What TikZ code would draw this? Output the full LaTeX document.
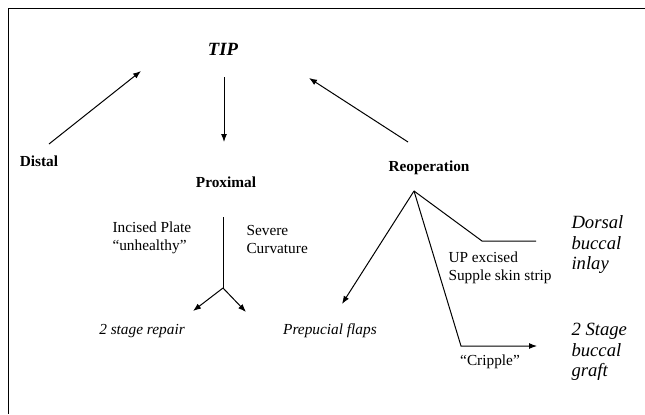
\documentclass[tikz,border=0pt]{standalone}
\usepackage{fontspec}
\setmainfont{Liberation Serif}
\usetikzlibrary{arrows.meta}

\begin{document}
\begin{tikzpicture}[
x=0.75pt, y=-0.75pt,
line width=0.75pt, >={Latex[length=6pt,width=4.5pt]},
   txt/.style = {inner sep=0pt, align=left,% plain labels
                 font=\fontsize{11.5}{13.5}\selectfont},
   hd/.style = {inner sep=0pt,% bold headings
                font=\fontsize{11.5}{13.5}\selectfont\bfseries},
   res/.style = {inner sep=0pt,% italic results
                 font=\fontsize{11.5}{13.5}\selectfont\itshape},
   big/.style = {inner sep=0pt, align=left,% large italic results
                 font=\fontsize{14}{15.4}\selectfont\itshape},
                    ]
\useasboundingbox (0,0) rectangle (645,414);
\draw (645,8) -- (8,8) -- (8,414);% frame
% headings
\node[big,font=\fontsize{14}{15.4}\selectfont\bfseries\itshape] (tip) at (223,49) {TIP};
\node[hd] (distal) at (39,161) {Distal};
\node[hd] (proximal) at (226,182) {Proximal};
\node[hd] (reop) at (429,168) {Reoperation};
% labels
\node[txt,anchor=west] (plate) at (112,238) {Incised Plate\\“unhealthy”};
\node[txt,anchor=west] (curv) at (246,239) {Severe\\Curvature};
\node[txt,anchor=west] (strip) at (448,268) {UP excised\\Supple skin strip};
\node[txt] (cripple) at (490,362) {“Cripple”};
\node[res] (repair) at (142,331) {2 stage repair};
\node[res] (flaps) at (330,331) {Prepucial flaps};
\node[big,anchor=west] (inlay) at (571,245) {Dorsal\\buccal\\inlay};
\node[big,anchor=west] (graft) at (571,352) {2 Stage\\buccal\\graft};
% connector ends
\coordinate (distal-out) at (49,144);
\coordinate (tip-l) at (141,71);
\coordinate (tip-out) at (224,77);
\coordinate (prox-in) at (224,142);
\coordinate (reop-out) at (408,142);
\coordinate (tip-r) at (309,78);
\coordinate (prox-top) at (223,217);
\coordinate (prox-fork) at (223,288);
\coordinate (repair-in) at (193,311);
\coordinate (curv-in) at (246,312);
\coordinate (reop-fork) at (414,191);
\coordinate (flaps-in) at (342,304);
\coordinate (inlay-bend) at (482,241);
\coordinate (inlay-end) at (536,241);
\coordinate (graft-bend) at (461,346);
\coordinate (graft-in) at (537,346);
% connectors
\draw[->] (distal-out) -- (tip-l);
\draw[->] (tip-out) -- (prox-in);
\draw[->] (reop-out) -- (tip-r);
\draw (prox-top) -- (prox-fork);
\draw[->] (prox-fork) -- (repair-in);
\draw[->] (prox-fork) -- (curv-in);
\draw[->] (reop-fork) -- (flaps-in);
\draw (reop-fork) -- (inlay-bend) -- (inlay-end);
\draw[->] (reop-fork) -- (graft-bend) -- (graft-in);
\end{tikzpicture}
\end{document}
